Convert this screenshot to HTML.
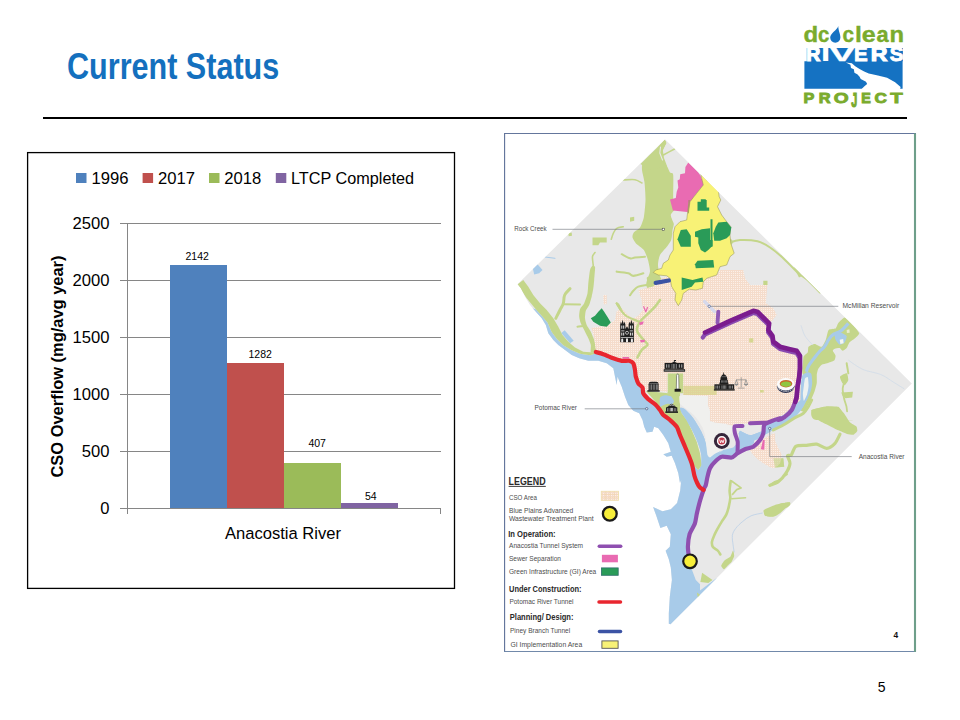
<!DOCTYPE html>
<html><head><meta charset="utf-8">
<style>
html,body{margin:0;padding:0;background:#fff;}
body{width:960px;height:720px;position:relative;overflow:hidden;font-family:"Liberation Sans",sans-serif;}
.abs{position:absolute;}
#title{left:67px;top:45px;font-size:36px;font-weight:bold;color:#1470be;white-space:nowrap;transform-origin:0 0;transform:scaleX(0.849);line-height:44px;}
#rule{left:43px;top:117px;width:864px;height:2px;background:#000;}
#pgnum{left:877.7px;top:679px;font-size:14px;color:#000;line-height:17px;}
svg{position:absolute;left:0;top:0;}
text{font-family:"Liberation Sans",sans-serif;}
</style></head><body>
<div id="title" class="abs">Current Status</div>
<div id="rule" class="abs"></div>
<div id="pgnum" class="abs">5</div>

<!-- LOGO -->
<svg id="logo" width="960" height="720" viewBox="0 0 960 720">
<path d="M806.8 47.9 H902.9 V61.3 H902.6 V88.7 H804.4 V61.3 H806.8 Z" fill="#1572c2"/>
<g transform="translate(800,40) scale(0.114583)"><path d="M400 196 L452 204 L482 230 L520 254 L560 274 L600 293 L680 309 L760 330 L830 368 L878 410 L874 428 L538 428 L560 405 L586 385 L576 365 L530 340 L520 320 L500 300 L475 285 L470 256 L445 245 L440 215 Z" fill="#fff"/></g>
<text transform="translate(806.29,60.699999999999996) scale(0.989,1)" font-size="19.76" font-weight="bold" fill="#fff" stroke="#fff" stroke-width="1.2" vector-effect="non-scaling-stroke" stroke-linejoin="miter">R</text>
<text transform="translate(820.78,61.3) scale(1.685,1)" font-size="20.6" font-weight="bold" fill="#fff">I</text>
<text transform="translate(829.34,61.099999999999994) scale(1.898,1)" font-size="20.32" font-weight="bold" fill="#fff" stroke="#fff" stroke-width="0.4" vector-effect="non-scaling-stroke" stroke-linejoin="miter">V</text>
<text transform="translate(853.93,60.9) scale(1.023,1)" font-size="20.040000000000003" font-weight="bold" fill="#fff" stroke="#fff" stroke-width="0.8" vector-effect="non-scaling-stroke" stroke-linejoin="miter">E</text>
<text transform="translate(870.65,60.699999999999996) scale(1.172,1)" font-size="19.76" font-weight="bold" fill="#fff" stroke="#fff" stroke-width="1.2" vector-effect="non-scaling-stroke" stroke-linejoin="miter">R</text>
<text transform="translate(889.86,60.849999999999994) scale(1.028,1)" font-size="19.970000000000002" font-weight="bold" fill="#fff" stroke="#fff" stroke-width="0.9" vector-effect="non-scaling-stroke" stroke-linejoin="miter">S</text>
<text transform="translate(803.62,41.9) scale(1.077,1)" font-size="22.3" font-weight="bold" fill="#7aab2d" stroke="#7aab2d" stroke-width="0.4" vector-effect="non-scaling-stroke" stroke-linejoin="miter">d</text>
<text transform="translate(818.11,41.9) scale(0.910,1)" font-size="22.3" font-weight="bold" fill="#7aab2d" stroke="#7aab2d" stroke-width="0.4" vector-effect="non-scaling-stroke" stroke-linejoin="miter">c</text>
<text transform="translate(842.49,41.9) scale(0.928,1)" font-size="22.3" font-weight="bold" fill="#7aab2d" stroke="#7aab2d" stroke-width="0.4" vector-effect="non-scaling-stroke" stroke-linejoin="miter">c</text>
<text transform="translate(855.07,41.9) scale(1.111,1)" font-size="22.3" font-weight="bold" fill="#7aab2d" stroke="#7aab2d" stroke-width="0.4" vector-effect="non-scaling-stroke" stroke-linejoin="miter">l</text>
<text transform="translate(861.72,41.9) scale(1.124,1)" font-size="22.3" font-weight="bold" fill="#7aab2d" stroke="#7aab2d" stroke-width="0.4" vector-effect="non-scaling-stroke" stroke-linejoin="miter">e</text>
<text transform="translate(876.46,41.9) scale(0.976,1)" font-size="22.3" font-weight="bold" fill="#7aab2d" stroke="#7aab2d" stroke-width="0.4" vector-effect="non-scaling-stroke" stroke-linejoin="miter">a</text>
<text transform="translate(889.53,41.9) scale(1.068,1)" font-size="22.3" font-weight="bold" fill="#7aab2d" stroke="#7aab2d" stroke-width="0.4" vector-effect="non-scaling-stroke" stroke-linejoin="miter">n</text>
<text transform="translate(803.61,103.3) scale(1.063,1)" font-size="15.299999999999999" font-weight="bold" fill="#7aab2d" stroke="#7aab2d" stroke-width="1.0" vector-effect="non-scaling-stroke" stroke-linejoin="miter">P</text>
<text transform="translate(818.80,103.3) scale(1.071,1)" font-size="15.299999999999999" font-weight="bold" fill="#7aab2d" stroke="#7aab2d" stroke-width="1.0" vector-effect="non-scaling-stroke" stroke-linejoin="miter">R</text>
<text transform="translate(833.81,103.3) scale(1.251,1)" font-size="15.299999999999999" font-weight="bold" fill="#7aab2d" stroke="#7aab2d" stroke-width="1.0" vector-effect="non-scaling-stroke" stroke-linejoin="miter">O</text>
<text transform="translate(851.24,106.8) scale(0.705,1.32)" font-size="15.299999999999999" font-weight="bold" fill="#7aab2d" stroke="#7aab2d" stroke-width="1.0" vector-effect="non-scaling-stroke" stroke-linejoin="miter">J</text>
<text transform="translate(861.15,103.3) scale(0.932,1)" font-size="15.299999999999999" font-weight="bold" fill="#7aab2d" stroke="#7aab2d" stroke-width="1.0" vector-effect="non-scaling-stroke" stroke-linejoin="miter">E</text>
<text transform="translate(874.50,103.3) scale(1.120,1)" font-size="15.299999999999999" font-weight="bold" fill="#7aab2d" stroke="#7aab2d" stroke-width="1.0" vector-effect="non-scaling-stroke" stroke-linejoin="miter">C</text>
<text transform="translate(890.27,103.3) scale(1.332,1)" font-size="15.299999999999999" font-weight="bold" fill="#7aab2d" stroke="#7aab2d" stroke-width="1.0" vector-effect="non-scaling-stroke" stroke-linejoin="miter">T</text>
<path d="M838.2 26 C837.6 30 830.2 33 830.2 37.6 A5.1 5.1 0 0 0 840.4 37.6 C840.4 34 838.6 31.5 838.2 26 Z" fill="#1572c2"/>
</svg>

<!-- CHART -->
<svg id="chart" width="960" height="720" viewBox="0 0 960 720">
<rect x="27.6" y="152.6" width="426.9" height="435.8" fill="#fff" stroke="#000" stroke-width="1.3"/>
<g stroke="#868686" stroke-width="1" fill="none" shape-rendering="crispEdges">
<path d="M120 223.5H441M120 280.5H441M120 337.5H441M120 394.5H441M120 451.5H441M120 508.5H441"/>
<path d="M127.5 223V508M127.5 508V514M440.5 508V514"/>
</g>
<g shape-rendering="crispEdges">
<rect x="170" y="265" width="57" height="243" fill="#4f81bd"/>
<rect x="227" y="363" width="57" height="145" fill="#c0504d"/>
<rect x="284" y="463" width="57" height="45" fill="#9bbb59"/>
<rect x="341" y="503" width="57" height="5" fill="#8064a2"/>
</g>
<rect x="76" y="173" width="10.5" height="10" fill="#4f81bd"/>
<rect x="142.6" y="173" width="10.5" height="10" fill="#c0504d"/>
<rect x="209" y="173" width="10.5" height="10" fill="#9bbb59"/>
<rect x="275.8" y="173" width="10.5" height="10" fill="#8064a2"/>
<g font-size="16.3" fill="#000" lengthAdjust="spacingAndGlyphs">
<text x="91.5" y="183.6" textLength="37" lengthAdjust="spacingAndGlyphs">1996</text>
<text x="158" y="183.6" textLength="37" lengthAdjust="spacingAndGlyphs">2017</text>
<text x="224.2" y="183.6" textLength="37" lengthAdjust="spacingAndGlyphs">2018</text>
<text x="291" y="183.6" textLength="123" lengthAdjust="spacingAndGlyphs">LTCP Completed</text>
<text x="72.5" y="229.3" textLength="37" lengthAdjust="spacingAndGlyphs">2500</text>
<text x="72.5" y="286.3" textLength="37" lengthAdjust="spacingAndGlyphs">2000</text>
<text x="72.5" y="343.3" textLength="37" lengthAdjust="spacingAndGlyphs">1500</text>
<text x="72.5" y="400.3" textLength="37" lengthAdjust="spacingAndGlyphs">1000</text>
<text x="81.8" y="457.3" textLength="27.7" lengthAdjust="spacingAndGlyphs">500</text>
<text x="100.3" y="514.3" textLength="9.2" lengthAdjust="spacingAndGlyphs">0</text>
<text x="225" y="539" textLength="116" lengthAdjust="spacingAndGlyphs">Anacostia River</text>
</g>
<g font-size="10.5" fill="#000" text-anchor="middle">
<text x="197.2" y="259.8">2142</text>
<text x="260.2" y="357.8">1282</text>
<text x="317.2" y="446.8">407</text>
<text x="370.8" y="500">54</text>
</g>
<text transform="translate(63.4,477.5) rotate(-90)" font-size="17" font-weight="bold" fill="#000" textLength="222" lengthAdjust="spacingAndGlyphs">CSO Overflow (mg/avg year)</text>
</svg>

<!-- MAP -->
<svg id="map" width="960" height="720" viewBox="0 0 960 720">
<defs>
<linearGradient id="fr" x1="0" y1="0" x2="1" y2="0"><stop offset="0" stop-color="#5b7fb5"/><stop offset="1" stop-color="#5e9a78"/></linearGradient>
</defs>
<rect x="504" y="133" width="412" height="519" fill="#fff"/><rect x="504" y="133" width="412" height="1" fill="#64769c"/><rect x="504" y="133" width="1.15" height="518.9" fill="#64769c"/><rect x="504" y="651" width="412" height="0.95" fill="#6a83a6"/><rect x="913.95" y="133.4" width="2.1" height="518.5" fill="#6e9f8a"/>
<!--MAPCONTENT-->
<defs>
<pattern id="hatch" width="2" height="2" patternUnits="userSpaceOnUse"><rect width="2" height="2" fill="#f5dccb"/><rect x="1" y="1" width="1" height="1" fill="#fcf0e8"/></pattern>
<pattern id="hatchg" width="2" height="2" patternUnits="userSpaceOnUse"><rect width="2" height="2" fill="#e0d39a"/><rect x="1" y="1" width="1" height="1" fill="#dcdf9e"/></pattern>
<clipPath id="land"><path d="M665.0 139.3 L911.8 383.6 L670.5 624.3 L668.8 623.8 L668.8 613.3 L669.8 596.7 L671.9 580.0 L670.8 567.5 L668.8 559.2 L665.6 550.8 L669.8 546.7 L670.8 534.2 L666.7 525.8 L660.4 527.9 L656.2 515.4 L653.1 507.1 L662.5 511.2 L670.8 509.2 L677.1 502.9 L680.2 490.4 L681.2 480.0 L680.0 483.3 L678.3 473.3 L675.0 463.3 L671.7 455.8 L666.7 456.7 L663.3 454.2 L666.7 453.3 L670.8 451.7 L668.3 443.3 L663.3 435.0 L658.3 428.3 L654.2 426.7 L652.5 431.7 L646.7 432.5 L644.2 426.7 L642.5 420.0 L639.2 413.3 L633.3 410.8 L628.3 405.0 L625.0 396.7 L621.7 386.7 L617.5 376.7 L616.7 385.0 L615.0 376.7 L613.3 368.3 L606.7 363.3 L598.3 360.8 L588.3 360.8 L579.2 358.3 L571.7 355.0 L565.0 350.0 L558.3 345.0 L553.3 340.0 L548.3 333.3 L545.8 325.0 L541.7 318.3 L535.8 311.7 L530.0 305.0 L525.0 296.7 L520.8 288.3 L517.5 284.2 Z"/></clipPath>
</defs>
<g clip-path="url(#land)">
<rect x="500" y="130" width="420" height="500" fill="#e8e8e8"/>
<path d="M535.8 309.2 L541.7 315.8 L547.5 322.5 L551.7 332.0 L556.7 338.7 L563.3 345.3 L571.7 350.3 L580.0 353.7 L590.0 355.3 L595.8 353.3 L603.3 355.3 L613.3 359.7 L621.7 362.0 L629.2 362.0 L632.5 364.2 L634.2 370.0 L635.0 376.7 L637.5 383.3 L641.7 387.5 L643.3 393.3 L648.3 399.2 L655.0 404.2 L660.0 410.0 L663.3 415.0 L670.0 420.0 L676.7 426.7 L680.0 435.0 L685.0 446.7 L691.7 463.3 L698.3 470.0 L701.7 465.8 L705.0 463.3 L707.5 458.3 L710.0 453.3 L720.0 448.3 L721.7 450.0 L715.0 458.3 L710.0 466.7 L707.5 476.7 L705.8 485.0 L702.5 495.0 L700.0 503.3 L704.2 490.4 L697.9 505.0 L694.8 521.7 L689.6 534.2 L687.5 548.8 L689.6 563.3 L692.7 571.7 L695.8 580.0 L700.0 584.2 L700.0 590.4 L716.7 577.9 L716.7 630.0 L641.7 630.0 L500.0 640.0 L500.0 300.0 Z" fill="#a8cbe9"/>
<path d="M680.0 409.2 C679.6 407.3 682.2 407.5 684.2 408.7 C686.1 409.9 689.3 413.4 691.7 416.3 C694.0 419.3 696.3 422.9 698.3 426.3 C700.3 429.7 702.2 433.0 703.7 436.7 C705.1 440.3 706.3 444.7 707.0 448.3 C707.7 451.9 708.3 455.8 708.0 458.3 C707.7 460.9 706.4 462.3 705.3 463.7 C704.3 465.1 702.3 468.1 701.7 466.7 C701.0 465.2 701.9 458.9 701.3 455.0 C700.7 451.1 699.4 447.2 698.0 443.3 C696.6 439.4 694.9 435.6 693.0 431.7 C691.1 427.8 688.5 423.8 686.3 420.0 C684.2 416.2 680.4 411.1 680.0 409.2 Z" fill="#a8cbe9"/>
<path d="M795.8 396.7 L793.3 406.7 L783.3 415.0 L771.7 420.0 L765.8 425.0 L763.3 430.8 L750.0 435.8 L740.0 430.8 L738.7 433.3 L740.0 441.7 L750.0 442.0 L758.3 438.7 L766.7 433.7 L775.0 428.7 L786.7 423.7 L796.7 415.3 L803.3 407.0 L806.7 400.0 L808.3 396.7 Z" fill="#a8cbe9"/>
<path d="M739.2 433.3 L755.0 435.8 L753.3 446.7 L745.0 449.2 L737.5 453.3 L731.7 457.5 L721.7 456.7 L715.0 461.7 L710.0 468.3 L700.0 478.3 L700.0 466.7 L705.0 463.3 L713.3 456.7 L723.3 450.0 L733.3 447.5 L738.3 441.7 Z" fill="#a8cbe9"/>
<path d="M561.3 333.0 L564.7 330.3 L573.7 340.8 L570.0 343.3 Z" fill="#a8cbe9"/>
<path d="M532.5 267.0 L537.5 264.2 L542.5 270.0 L539.2 273.3 L534.2 274.5 Z" fill="#a8cbe9"/>
<path d="M545.0 257.0 L555.0 258.3" fill="none" stroke="#a8cbe9" stroke-width="1" stroke-linecap="round" stroke-linejoin="round"/>
<path d="M835.8 334.2 C836.7 333.1 841.5 332.2 843.3 332.5 C845.1 332.8 846.7 334.6 846.7 335.8 C846.7 337.1 844.7 339.4 843.3 340.0 C841.9 340.6 839.6 340.1 838.3 339.2 C837.1 338.2 835.0 335.3 835.8 334.2 Z" fill="#a8cbe9"/>
<path d="M664.2 140.5 C663.5 141.2 660.7 146.8 660.0 148.8 C659.3 150.7 659.0 155.7 658.0 157.0 C657.0 158.3 653.0 159.3 651.2 160.0 C649.5 160.7 644.1 161.8 643.0 163.0 C641.9 164.2 641.8 167.7 642.0 170.0 C642.2 172.3 644.1 179.0 644.5 182.5 C644.9 186.0 645.6 195.9 645.5 200.0 C645.4 204.1 644.4 214.3 643.8 217.5 C643.1 220.7 641.2 225.8 640.0 227.5 C638.8 229.2 634.6 231.3 633.8 232.5 C632.9 233.7 632.2 236.2 632.5 237.5 C632.8 238.8 634.9 242.3 636.2 243.8 C637.6 245.2 642.4 248.1 643.8 250.0 C645.1 251.9 647.3 257.5 648.0 260.0 C648.7 262.5 650.1 269.1 650.0 271.2 C649.9 273.4 647.9 277.1 647.5 278.8 C647.1 280.4 646.0 283.5 646.2 285.0 C646.5 286.5 647.9 291.2 649.5 291.2 C651.1 291.2 658.2 285.7 660.0 285.0 C661.8 284.3 665.0 286.0 665.0 285.0 C665.0 284.0 660.8 278.6 660.0 276.2 C659.2 273.9 658.0 267.5 658.0 265.0 C658.0 262.5 659.0 257.0 660.0 255.0 C661.0 253.0 664.9 249.2 666.2 247.5 C667.6 245.8 670.5 242.0 671.2 240.0 C672.0 238.0 672.2 231.9 672.5 230.0 C672.8 228.1 674.0 225.5 673.8 223.8 C673.5 222.0 670.6 216.8 670.8 215.0 C670.9 213.2 674.7 210.5 675.0 208.8 C675.3 207.0 673.5 203.9 673.2 200.0 C673.0 196.1 673.6 178.2 673.2 175.0 C672.9 171.8 670.7 173.5 670.0 172.5 C669.3 171.5 667.8 167.4 667.0 166.2 C666.2 165.1 663.8 163.7 663.0 162.5 C662.2 161.3 660.5 157.7 660.5 156.2 C660.5 154.8 662.4 151.6 663.0 150.0 C663.6 148.4 665.9 143.6 666.0 142.5 C666.1 141.4 665.0 139.8 664.2 140.5 Z" fill="#c4d68a"/>
<path d="M640.5 164.0 L649.0 155.5 L656.0 148.8 L661.0 143.5 L664.6 139.8 L666.5 143.0 L662.8 150.0 L664.0 158.0 L667.0 166.0 L650.0 170.0 Z" fill="#c4d68a"/>
<path d="M660.5 147.0 L659.8 153.0 L662.5 160.0" fill="none" stroke="#e8e8e8" stroke-width="1.1" stroke-linecap="round" stroke-linejoin="round"/>
<path d="M648.3 278.3 C648.6 279.7 650.3 284.2 650.0 286.7 C649.7 289.2 646.7 291.1 646.7 293.3 C646.7 295.6 648.8 297.8 650.0 300.0 C651.2 302.2 653.5 305.6 654.2 306.7" fill="none" stroke="#c4d68a" stroke-width="3.2" stroke-linecap="round" stroke-linejoin="round"/>
<path d="M660.0 300.0 C659.2 301.1 657.1 304.3 655.0 306.7 C652.9 309.0 650.0 311.7 647.5 314.2 C645.0 316.7 641.8 318.9 640.0 321.7 C638.2 324.4 636.4 327.8 637.0 330.8 C637.6 333.9 641.9 337.7 643.7 340.0 C645.4 342.3 647.8 343.0 647.5 344.7 C647.2 346.3 643.3 347.9 641.7 350.0 C640.0 352.1 638.2 356.2 637.5 357.5" fill="none" stroke="#c4d68a" stroke-width="2.6" stroke-linecap="round" stroke-linejoin="round"/>
<path d="M616.7 303.3 C618.1 305.3 621.4 312.0 625.0 315.0 C628.6 318.0 635.8 320.3 638.0 321.3" fill="none" stroke="#c4d68a" stroke-width="2.2" stroke-linecap="round" stroke-linejoin="round"/>
<path d="M643.3 273.3 C641.7 273.8 635.8 275.8 633.3 275.8 C630.8 275.8 631.1 274.0 628.3 273.3 C625.6 272.6 618.6 271.9 616.7 271.7" fill="none" stroke="#c4d68a" stroke-width="2.2" stroke-linecap="round" stroke-linejoin="round"/>
<path d="M645.0 256.7 C643.3 256.8 637.5 257.2 635.0 257.5 C632.5 257.8 632.2 258.9 630.0 258.3 C627.8 257.8 623.1 254.9 621.7 254.2" fill="none" stroke="#c4d68a" stroke-width="2" stroke-linecap="round" stroke-linejoin="round"/>
<path d="M646.7 285.0 C645.3 285.3 640.6 285.7 638.3 286.7 C636.1 287.6 634.7 289.4 633.3 290.8 C631.9 292.3 630.6 294.6 630.0 295.3" fill="none" stroke="#c4d68a" stroke-width="2" stroke-linecap="round" stroke-linejoin="round"/>
<path d="M618.3 304.2 C619.2 305.7 621.7 311.1 623.3 313.3 C625.0 315.6 627.5 316.8 628.3 317.5" fill="none" stroke="#c4d68a" stroke-width="1.8" stroke-linecap="round" stroke-linejoin="round"/>
<path d="M663.3 155.0 C665.3 153.9 673.1 149.7 675.0 148.7" fill="none" stroke="#c4d68a" stroke-width="1.6" stroke-linecap="round" stroke-linejoin="round"/>
<path d="M623.3 180.0 C625.3 179.9 631.9 179.2 635.0 179.7 C638.1 180.2 640.8 182.4 642.0 183.0" fill="none" stroke="#c4d68a" stroke-width="1.6" stroke-linecap="round" stroke-linejoin="round"/>
<path d="M623.3 226.7 C622.2 226.9 618.3 227.2 616.7 228.3 C615.0 229.4 614.2 231.5 613.3 233.3 C612.4 235.1 611.7 238.2 611.3 239.2" fill="none" stroke="#c4d68a" stroke-width="1.6" stroke-linecap="round" stroke-linejoin="round"/>
<path d="M592.5 237.5 L606.7 237.5 L606.7 242.5 L600.0 242.5 L598.3 245.3 L592.5 245.3 Z" fill="#c4d68a"/>
<path d="M630.0 217.5 L634.2 216.7 L634.2 220.8 L630.0 221.7 Z" fill="#c4d68a"/>
<path d="M568.3 233.3 L571.7 232.5 L572.0 235.8 L568.7 236.3 Z" fill="#c4d68a"/>
<path d="M590.0 270.0 C589.6 271.8 588.6 281.0 588.3 283.3 C588.1 285.7 587.9 291.3 587.5 293.3 C587.1 295.3 584.9 301.8 584.2 303.3 C583.4 304.9 580.5 307.8 580.0 309.2 C579.5 310.5 579.1 315.2 579.2 316.7 C579.2 318.1 580.3 322.0 580.8 323.3 C581.3 324.7 583.4 328.5 584.2 330.0 C584.9 331.5 587.7 336.8 588.3 338.3 C589.0 339.8 590.6 343.6 590.8 345.0 C591.1 346.4 590.3 351.8 590.8 352.5 C591.3 353.2 595.3 352.2 595.8 351.7 C596.3 351.1 596.0 347.8 595.8 346.7 C595.7 345.5 594.7 341.5 594.2 340.0 C593.7 338.5 591.6 333.2 590.8 331.7 C590.1 330.2 587.2 326.3 586.7 325.0 C586.1 323.7 585.1 319.8 585.0 318.3 C584.9 316.9 585.4 312.2 585.8 310.8 C586.2 309.5 588.6 306.4 589.2 305.0 C589.8 303.6 591.2 298.3 591.7 296.7 C592.1 295.0 593.1 290.0 593.3 288.3 C593.6 286.7 594.0 281.8 594.2 280.0 C594.3 278.2 594.9 271.3 595.0 270.0 C595.1 268.7 595.2 267.1 595.0 266.7 C594.8 266.2 593.0 265.5 592.5 265.8 C592.0 266.2 590.4 268.2 590.0 270.0 Z" fill="#c4d68a"/>
<path d="M593.3 265.8 C593.2 264.3 592.2 258.9 592.5 256.7 C592.8 254.4 594.6 253.2 595.0 252.5" fill="none" stroke="#c4d68a" stroke-width="1.6" stroke-linecap="round" stroke-linejoin="round"/>
<path d="M570.0 288.7 C569.1 289.7 565.8 292.6 564.7 295.0 C563.6 297.4 564.1 300.8 563.3 303.3 C562.6 305.8 561.2 307.5 560.0 310.0 C558.8 312.5 556.5 316.9 555.8 318.3" fill="none" stroke="#c4d68a" stroke-width="3" stroke-linecap="round" stroke-linejoin="round"/>
<path d="M564.2 304.2 C566.8 304.2 577.4 304.4 580.0 304.5" fill="none" stroke="#c4d68a" stroke-width="2" stroke-linecap="round" stroke-linejoin="round"/>
<path d="M577.5 326.7 C578.8 326.5 583.8 326.0 585.0 325.8" fill="none" stroke="#c4d68a" stroke-width="2" stroke-linecap="round" stroke-linejoin="round"/>
<path d="M523.3 280.0 L528.3 286.7 L533.3 295.0 L540.0 303.3 L546.7 310.0 L553.3 318.3 L558.3 326.7 L562.5 335.0 L568.3 341.7 L575.0 347.5 L583.3 351.7 L593.3 352.5 L595.0 353.7 L590.0 355.3 L580.0 353.7 L571.7 350.3 L563.3 345.3 L556.7 338.7 L551.7 332.0 L547.5 322.5 L541.7 315.8 L535.8 309.2 L526.7 298.3 L517.5 284.2 Z" fill="#c4d68a"/>
<path d="M667.5 373.3 L683.3 373.3 L683.3 393.3 L667.5 393.3 Z" fill="#c4d68a"/>
<path d="M644.2 390.8 L668.3 393.3 L668.3 375.0 L683.3 375.0 L683.3 385.8 L680.0 393.3 L680.0 406.7 L681.7 413.3 L686.7 420.0 L691.7 430.0 L696.7 441.7 L700.0 453.3 L701.7 465.0 L698.3 470.0 L691.7 463.3 L685.0 448.3 L680.0 436.7 L676.7 426.7 L666.7 418.3 L656.7 403.3 L646.7 391.7 Z" fill="#c4d68a"/>
<path d="M660.0 397.5 C660.5 396.4 663.9 395.4 665.0 395.2 C666.1 395.1 670.4 395.9 671.2 396.5 C672.1 397.1 673.9 400.5 674.0 401.2 C674.1 402.0 672.5 404.1 671.9 404.4 C671.2 404.6 668.3 403.7 667.5 403.8 C666.7 403.8 664.5 404.7 663.8 405.0 C663.0 405.3 660.4 407.2 660.0 406.5 C659.6 405.8 659.5 398.6 660.0 397.5 Z" fill="#a8cbe9"/>
<path d="M680.0 409.2 C679.6 407.3 682.2 407.5 684.2 408.7 C686.1 409.9 689.3 413.4 691.7 416.3 C694.0 419.3 696.3 422.9 698.3 426.3 C700.3 429.7 702.2 433.0 703.7 436.7 C705.1 440.3 706.3 444.7 707.0 448.3 C707.7 451.9 708.3 455.8 708.0 458.3 C707.7 460.9 706.4 462.3 705.3 463.7 C704.3 465.1 702.3 468.1 701.7 466.7 C701.0 465.2 701.9 458.9 701.3 455.0 C700.7 451.1 699.4 447.2 698.0 443.3 C696.6 439.4 694.9 435.6 693.0 431.7 C691.1 427.8 688.5 423.8 686.3 420.0 C684.2 416.2 680.4 411.1 680.0 409.2 Z" fill="#a8cbe9"/>
<path d="M679.4 396.2 C679.6 395.7 682.9 395.0 683.8 395.0 C684.6 395.0 690.9 395.5 692.5 395.6 C694.1 395.7 706.5 395.6 707.5 396.2 C708.5 396.9 708.0 404.0 708.1 405.0 C708.3 406.0 709.9 410.2 710.0 411.2 C710.1 412.3 709.7 420.5 710.0 421.2 C710.3 422.0 714.0 422.3 715.0 422.5 C716.0 422.7 723.8 423.5 725.0 423.8 C726.2 424.0 733.2 425.8 733.8 426.2 C734.3 426.7 734.0 429.4 733.8 430.0 C733.5 430.6 730.4 434.0 730.0 435.0 C729.6 436.0 728.0 444.0 727.5 445.0 C727.0 446.0 723.3 449.4 722.5 450.0 C721.7 450.6 715.8 453.2 715.0 453.8 C714.2 454.2 710.5 457.4 710.0 457.5 C709.5 457.6 707.8 455.8 707.5 455.0 C707.2 454.2 706.4 446.3 706.2 445.0 C706.1 443.7 705.2 436.2 705.0 435.0 C704.8 433.8 702.9 428.4 702.5 427.5 C702.1 426.6 699.3 422.1 698.8 421.2 C698.2 420.4 694.6 415.8 693.8 415.0 C692.9 414.2 687.2 409.5 686.2 408.8 C685.3 408.0 680.5 404.6 680.0 403.8 C679.5 402.9 679.1 396.8 679.4 396.2 Z" fill="#f0f0ee"/>
<path d="M844.6 317.5 C845.7 317.3 848.4 320.0 849.4 321.0 C850.5 321.9 854.0 326.0 855.0 327.2 C856.0 328.5 859.2 332.4 859.2 333.5 C859.2 334.6 856.0 337.4 855.0 338.3 C854.0 339.2 850.3 341.5 849.4 342.5 C848.6 343.5 847.4 347.2 846.7 348.1 C846.0 348.9 843.2 350.8 842.5 350.8 C841.8 350.8 840.5 348.3 839.7 348.1 C839.0 347.8 835.6 348.5 834.9 348.8 C834.2 349.0 832.7 350.1 832.8 350.8 C832.8 351.5 835.4 354.7 835.6 355.7 C835.7 356.7 835.0 359.8 834.2 360.6 C833.3 361.3 828.5 362.9 827.2 363.3 C826.0 363.8 822.6 364.2 821.7 364.7 C820.8 365.3 818.7 367.9 818.2 368.9 C817.7 369.9 816.9 373.1 816.8 374.4 C816.7 375.8 817.0 381.1 816.8 382.8 C816.6 384.4 815.3 389.4 814.7 391.1 C814.2 392.8 811.9 398.1 811.2 399.4 C810.6 400.8 808.3 403.9 807.8 405.0 C807.3 406.1 807.1 410.0 806.4 410.6 C805.7 411.1 801.2 412.1 800.8 410.6 C800.4 409.0 802.0 397.8 802.2 395.3 C802.4 392.8 802.8 387.4 802.9 385.6 C803.1 383.8 803.7 378.6 803.6 377.2 C803.5 375.8 802.3 373.1 802.2 371.7 C802.2 370.3 802.8 364.9 802.9 363.3 C803.1 361.8 803.1 357.5 803.6 356.4 C804.1 355.3 807.3 353.2 807.8 352.2 C808.3 351.2 807.8 347.5 808.5 346.7 C809.2 345.8 813.4 343.9 814.7 343.9 C816.0 343.9 820.6 347.1 821.7 346.7 C822.8 346.2 825.1 341.4 825.8 339.7 C826.5 338.1 827.6 331.1 828.6 330.0 C829.6 328.9 834.6 329.3 835.6 328.6 C836.5 327.9 837.4 324.2 838.3 323.1 C839.2 321.9 843.5 317.7 844.6 317.5 Z" fill="#c4d68a"/>
<path d="M795.8 396.7 L793.3 406.7 L783.3 415.0 L771.7 420.0 L765.8 425.0 L763.3 430.8 L750.0 435.8 L740.0 430.8 L738.7 433.3 L740.0 441.7 L750.0 442.0 L758.3 438.7 L766.7 433.7 L775.0 428.7 L786.7 423.7 L796.7 415.3 L803.3 407.0 L806.7 400.0 L808.3 396.7 Z" fill="#a8cbe9"/>
<path d="M848.3 323.3 C847.1 324.6 843.7 328.8 841.1 330.7 C838.5 332.6 834.9 333.4 832.8 334.9 C830.7 336.4 830.0 337.8 828.6 339.7 C827.2 341.7 826.1 344.6 824.4 346.7 C822.8 348.8 820.7 350.1 818.9 352.2 C817.0 354.3 815.1 356.9 813.3 359.2 C811.6 361.5 809.6 364.0 808.5 366.1 C807.3 368.2 806.7 370.7 806.4 371.7" fill="none" stroke="#a8cbe9" stroke-width="3.2" stroke-linecap="butt" stroke-linejoin="round"/>
<path d="M834.9 334.9 C835.4 334.2 839.9 332.6 841.1 332.8 C842.3 332.9 846.3 335.3 846.7 336.2 C847.0 337.2 845.3 341.7 844.6 342.5 C843.9 343.3 840.6 344.9 839.7 344.6 C838.8 344.3 836.0 340.7 835.6 339.7 C835.1 338.8 834.3 335.6 834.9 334.9 Z" fill="#a8cbe9"/>
<path d="M839.7 339.7 L843.2 339.0 L843.6 343.2 L840.4 343.9 Z" fill="#f4f6f2"/>
<path d="M846.7 330.0 L849.4 329.3 L849.7 332.8 L846.9 333.1 Z" fill="#e8ecd0"/>
<path d="M802.2 375.8 C802.8 374.5 805.5 372.6 806.4 372.4 C807.3 372.2 810.7 372.7 811.2 373.8 C811.8 374.8 812.3 381.0 812.2 382.8 C812.2 384.5 811.3 389.4 810.8 391.1 C810.3 392.8 807.8 398.1 807.1 399.4 C806.4 400.8 804.2 403.9 803.6 405.0 C803.0 406.1 801.5 410.0 800.8 410.6 C800.1 411.1 796.8 411.1 796.7 410.6 C796.5 410.0 799.1 406.5 799.4 405.0 C799.8 403.5 800.0 397.2 800.1 395.3 C800.3 393.3 800.6 387.5 800.8 385.6 C801.0 383.6 801.7 377.2 802.2 375.8 Z" fill="#a8cbe9"/>
<path d="M805.0 378.6 C805.4 377.8 807.4 376.5 807.8 377.2 C808.1 377.9 808.7 383.9 808.6 385.6 C808.6 387.2 807.7 392.4 807.2 393.9 C806.8 395.4 804.3 400.8 803.9 400.8 C803.5 400.8 802.9 395.4 802.9 393.9 C802.9 392.4 803.7 387.1 803.9 385.6 C804.1 384.0 804.6 379.4 805.0 378.6 Z" fill="#eef2f0"/>
<path d="M722.0 247.0 C723.1 246.4 727.6 243.4 730.0 242.5 C732.4 241.6 736.3 240.2 740.0 240.0 C743.7 239.8 753.5 240.3 757.5 241.3 C761.5 242.3 766.7 245.3 770.0 247.5 C773.3 249.7 778.8 254.2 782.5 257.5 C786.2 260.8 794.2 269.5 797.5 272.5 C800.8 275.5 804.5 277.3 807.5 280.0 C810.5 282.7 818.3 290.8 820.0 292.5" fill="none" stroke="#c4d68a" stroke-width="2.0" stroke-linecap="round" stroke-linejoin="round"/>
<path d="M726.0 240.0 C726.7 238.8 728.8 238.2 730.0 238.5 C731.2 238.8 733.0 240.8 733.0 242.0 C733.0 243.2 731.2 245.3 730.0 246.0 C728.8 246.7 726.7 247.0 726.0 246.0 C725.3 245.0 725.3 241.2 726.0 240.0 Z" fill="#c4d68a"/>
<path d="M793.5 267.0 L797.0 268.0 L802.0 276.0 L799.0 277.5 Z" fill="#c4d68a"/>
<path d="M811.7 400.0 C811.1 401.1 809.7 404.4 808.3 406.7 C806.9 408.9 805.8 411.3 803.3 413.3 C800.8 415.3 796.7 416.7 793.3 418.7 C790.0 420.6 786.7 423.1 783.3 425.0 C780.0 426.9 775.0 429.2 773.3 430.0" fill="none" stroke="#c4d68a" stroke-width="3" stroke-linecap="round" stroke-linejoin="round"/>
<path d="M840.0 376.7 C840.4 375.7 845.8 373.0 846.7 373.3 C847.5 373.7 848.5 378.8 848.3 380.0 C848.2 381.2 845.6 384.7 845.0 385.0 C844.4 385.3 843.0 384.2 842.5 383.3 C842.0 382.5 839.6 377.7 840.0 376.7 Z" fill="#c4d68a"/>
<path d="M846.7 363.3 C846.9 365.0 848.1 371.7 848.3 373.3" fill="none" stroke="#c4d68a" stroke-width="2" stroke-linecap="round" stroke-linejoin="round"/>
<path d="M811.7 410.0 C812.3 409.1 824.9 406.9 826.7 406.7 C828.4 406.4 837.2 406.2 838.3 406.7 C839.4 407.1 842.8 412.4 843.3 413.3 C843.9 414.2 841.8 419.6 846.7 420.0 C851.6 420.4 918.7 420.0 916.7 420.0 C914.7 420.0 823.7 420.7 816.7 420.0 C809.7 419.3 811.0 410.9 811.7 410.0 Z" fill="#c4d68a"/>
<path d="M811.4 409.9 C812.1 409.3 824.9 406.4 826.7 406.2 C828.5 406.1 837.2 407.2 838.3 407.7 C839.5 408.2 843.4 412.6 844.2 413.5 C844.9 414.5 849.2 421.4 850.0 422.3 C850.8 423.2 856.1 426.1 856.6 426.7 C857.0 427.2 857.5 430.5 857.3 431.0 C857.1 431.6 854.3 434.5 853.6 434.7 C853.0 434.9 848.1 434.2 847.1 434.0 C846.1 433.7 839.6 430.9 838.3 430.3 C837.1 429.7 829.4 425.8 828.1 425.2 C826.9 424.6 820.2 421.5 819.4 420.8 C818.5 420.2 815.5 415.7 815.0 415.0 C814.5 414.3 810.6 410.5 811.4 409.9 Z" fill="#c4d68a"/>
<path d="M841.2 392.4 L852.9 391.7 L852.2 397.5 L845.6 398.2 L842.7 396.0 Z" fill="#c4d68a"/>
<path d="M844.9 380.0 C844.6 381.2 842.8 386.2 842.7 388.8 C842.6 391.3 843.7 396.6 844.2 399.0 C844.7 401.3 846.0 404.6 846.4 406.2 C846.7 407.9 847.0 410.7 847.1 411.4" fill="none" stroke="#c4d68a" stroke-width="1.8" stroke-linecap="round" stroke-linejoin="round"/>
<path d="M840.0 434.2 C839.3 435.4 836.8 441.4 835.0 443.3 C833.2 445.2 829.1 448.2 826.7 448.3 C824.2 448.4 819.3 444.6 816.7 444.2 C814.0 443.8 809.4 445.0 806.7 445.3 C803.9 445.6 797.9 445.0 795.8 446.3 C793.8 447.6 792.4 453.7 791.3 455.0 C790.2 456.3 787.7 454.7 787.5 455.8 C787.3 456.9 790.2 461.0 790.0 463.3 C789.8 465.7 787.4 470.9 785.8 473.3 C784.3 475.8 780.4 480.1 778.3 481.7 C776.2 483.3 771.1 484.8 770.0 485.3" fill="none" stroke="#c4d68a" stroke-width="3.2" stroke-linecap="round" stroke-linejoin="round"/>
<path d="M764.2 510.0 C765.2 508.9 772.4 505.8 775.0 505.0 C777.6 504.2 789.5 501.7 790.0 502.5 C790.5 503.3 781.7 511.9 780.0 513.3 C778.3 514.8 774.8 516.4 773.3 516.7 C771.8 516.9 765.9 516.5 765.0 515.8 C764.1 515.2 763.2 511.1 764.2 510.0 Z" fill="#c4d68a"/>
<path d="M773.3 458.3 L783.3 458.3 L784.2 466.7 L775.0 467.5 Z" fill="#c4d68a"/>
<path d="M730.7 481.1 C730.5 482.4 729.6 488.6 729.6 490.8 C729.5 493.1 730.4 495.7 730.3 497.8 C730.2 499.8 729.4 503.9 728.9 506.1 C728.4 508.3 727.3 512.4 726.4 514.4 C725.5 516.5 723.1 519.5 721.9 521.4 C720.8 523.2 718.8 526.5 717.8 528.3 C716.8 530.2 715.1 533.4 714.3 535.3 C713.5 537.1 712.1 540.6 711.9 542.2 C711.8 543.8 712.1 546.0 712.9 547.1 C713.7 548.2 716.8 549.6 717.8 550.6 C718.8 551.5 719.9 553.9 720.3 554.4" fill="none" stroke="#c4d68a" stroke-width="2.6" stroke-linecap="round" stroke-linejoin="round"/>
<path d="M731.2 480.8 L741.1 487.9 L736.7 489.6 L732.5 494.4" fill="none" stroke="#c4d68a" stroke-width="1.7" stroke-linecap="round" stroke-linejoin="round"/>
<path d="M731.7 498.8 L745.6 497.8" fill="none" stroke="#c4d68a" stroke-width="1.4" stroke-linecap="round" stroke-linejoin="round"/>
<path d="M763.6 510.3 C764.2 509.8 772.1 507.3 773.3 506.8 C774.5 506.3 780.6 503.6 781.7 503.3 C782.8 503.1 789.4 502.5 790.0 502.6 C790.6 502.8 790.4 505.7 790.0 506.1 C789.6 506.5 785.2 508.5 784.4 508.9 C783.7 509.3 779.5 511.2 778.9 511.7 C778.2 512.1 775.5 515.5 774.7 515.8 C774.0 516.2 768.4 516.6 767.8 516.5 C767.1 516.4 765.3 514.9 765.0 514.4 C764.7 514.0 763.1 510.8 763.6 510.3 Z" fill="#c4d68a"/>
<path d="M721.2 565.8 C721.3 564.9 723.8 561.2 724.7 560.3 C725.6 559.4 729.4 557.8 730.3 556.8 C731.1 555.8 732.7 550.6 733.1 550.6 C733.4 550.5 734.3 555.0 734.2 556.1 C734.0 557.2 732.3 560.7 731.7 561.7 C731.0 562.6 728.3 565.1 727.5 565.8 C726.7 566.6 724.7 569.3 724.0 569.3 C723.4 569.3 721.2 566.7 721.2 565.8 Z" fill="#c4d68a"/>
<path d="M762.2 513.1 C760.4 513.5 754.4 514.4 751.1 515.8 C747.9 517.2 745.3 519.3 742.8 521.4 C740.2 523.5 737.6 526.0 735.8 528.3 C734.1 530.6 732.8 532.5 732.4 535.3 C731.9 538.1 732.8 542.2 733.1 545.0 C733.4 547.8 734.0 550.8 734.2 551.9" fill="none" stroke="#b4cde6" stroke-width="0.7" stroke-linecap="round" stroke-linejoin="round"/>
<path d="M769.2 485.3 C770.1 484.7 772.9 482.7 774.7 481.8 C776.6 480.9 778.9 480.5 780.3 479.7 C781.7 478.9 781.9 477.9 783.1 476.9 C784.2 476.0 786.5 474.6 787.2 474.2" fill="none" stroke="#c4d68a" stroke-width="1.6" stroke-linecap="round" stroke-linejoin="round"/>
<path d="M702.1 572.7 L712.5 580.0 L708.3 583.1 L700.4 582.1 Z" fill="#c4d68a"/>
<path d="M696.9 592.5 L700.4 595.0 L697.9 597.7 Z" fill="#c4d68a"/>
<path d="M801.1 325.7 C801.8 327.4 803.1 332.8 805.0 336.0 C806.9 339.2 811.4 343.5 812.7 345.0" fill="none" stroke="#c9d8ea" stroke-width="0.6" stroke-linecap="round" stroke-linejoin="round"/>
<path d="M848.7 360.4 C851.1 361.9 857.4 367.0 862.8 369.4 C868.1 371.8 875.6 372.4 880.8 374.5 C885.9 376.6 889.8 379.9 893.7 382.3 C897.6 384.7 902.3 387.6 904.0 388.7" fill="none" stroke="#c9d8ea" stroke-width="0.6" stroke-linecap="round" stroke-linejoin="round"/>
<path d="M596.0 352.0 L594.0 337.0 L591.5 328.0 L600.0 326.5 L607.0 326.5 L611.0 323.0 L615.0 320.0 L616.7 311.0 L622.5 309.0 L627.0 314.0 L633.0 318.5 L638.0 316.0 L643.0 310.0 L641.5 300.0 L638.5 290.0 L653.0 286.5 L662.0 278.0 L700.0 270.0 L716.7 275.0 L720.0 270.0 L743.3 270.0 L745.0 278.3 L750.0 285.0 L762.5 285.0 L765.0 281.7 L767.5 283.3 L766.7 293.3 L765.8 303.3 L773.3 308.3 L776.7 315.0 L771.0 322.0 L770.0 330.0 L774.0 336.0 L775.0 342.0 L781.0 347.0 L790.0 349.5 L797.0 351.0 L800.5 356.0 L800.5 400.0 L793.3 406.7 L783.3 415.0 L771.7 420.0 L765.8 425.0 L750.0 423.5 L743.8 423.8 L733.8 423.8 L733.8 426.0 L725.0 423.8 L715.0 422.5 L710.0 421.0 L710.0 411.0 L708.0 405.0 L708.3 396.0 L683.3 395.0 L683.3 373.3 L667.5 373.3 L667.5 391.7 L645.0 390.0 L638.3 381.7 L634.2 373.3 L634.2 364.2 L630.0 359.2 L621.7 358.3 L610.0 355.8 Z" fill="url(#hatch)"/>
<path d="M683.3 385.8 L716.7 385.8 L716.7 395.0 L683.3 395.0 Z" fill="url(#hatchg)"/>
<path d="M753.3 443.7 C754.3 442.8 757.9 441.9 760.0 440.8 C762.1 439.8 772.7 433.4 774.2 433.3 C775.7 433.2 774.6 438.5 775.0 440.0 C775.4 441.5 777.7 446.8 778.3 448.3 C779.0 449.8 781.5 453.5 781.7 455.0 C781.8 456.5 780.8 462.0 780.0 463.3 C779.2 464.7 775.0 468.3 773.3 468.3 C771.7 468.3 765.2 464.5 763.3 463.3 C761.5 462.2 756.3 458.0 755.0 456.7 C753.7 455.3 750.2 451.3 750.0 450.0 C749.8 448.7 752.3 444.6 753.3 443.7 Z" fill="url(#hatch)"/>
<path d="M603.3 295.0 L606.7 295.0 L606.7 304.2 L603.7 304.2 Z" fill="url(#hatch)"/>
<path d="M773.3 458.3 L783.3 458.3 L784.2 466.7 L775.0 467.5 Z" fill="#c4d68a" opacity="0.6"/>
<path d="M749.2 338.3 L753.3 338.3 L753.3 342.5 L749.2 342.5 Z" fill="#d6d690"/>
<path d="M760.0 390.0 L763.7 390.0 L763.7 392.5 L760.0 392.5 Z" fill="#d6d690"/>
<path d="M763.3 280.8 L767.5 280.8 L767.5 285.0 L763.3 285.0 Z" fill="#c4d68a"/>
<path d="M704.5 301.5 L709.0 306.0 L714.5 311.5" fill="none" stroke="#d6d9ec" stroke-width="3.2" stroke-linecap="round" stroke-linejoin="round"/>
<path d="M660.0 300.0 C659.2 301.1 657.1 304.3 655.0 306.7 C652.9 309.0 650.0 311.7 647.5 314.2 C645.0 316.7 641.8 318.9 640.0 321.7 C638.2 324.4 636.4 327.8 637.0 330.8 C637.6 333.9 641.9 337.7 643.7 340.0 C645.4 342.3 647.8 343.0 647.5 344.7 C647.2 346.3 643.3 347.9 641.7 350.0 C640.0 352.1 638.2 356.2 637.5 357.5" fill="none" stroke="#c4d68a" stroke-width="2.6" stroke-linecap="round" stroke-linejoin="round"/>
<path d="M616.7 303.3 C618.1 305.3 621.4 312.0 625.0 315.0 C628.6 318.0 635.8 320.3 638.0 321.3" fill="none" stroke="#c4d68a" stroke-width="2.2" stroke-linecap="round" stroke-linejoin="round"/>
<path d="M688.3 162.5 L698.3 172.5 L700.4 175.4 L704.2 184.2 L700.4 188.8 L693.8 197.1 L691.7 203.8 L689.6 212.3 L672.9 210.4 L670.0 199.6 L675.8 197.9 L676.7 191.7 L678.3 187.5 L677.5 180.4 L679.8 179.2 L680.2 174.3 L685.0 173.3 L685.4 167.1 Z" fill="#e96bb2"/>
<path d="M700.8 174.2 L706.7 180.0 L713.3 185.8 L718.3 190.0 L719.2 196.7 L720.8 200.0 L717.5 206.7 L721.7 215.0 L726.7 221.7 L730.8 226.7 L730.0 235.0 L730.8 243.3 L734.2 253.3 L730.0 256.7 L726.7 265.0 L720.0 266.7 L716.7 275.0 L706.7 278.3 L703.3 281.7 L702.5 288.3 L695.8 290.0 L689.2 289.2 L683.3 293.3 L681.7 300.0 L678.3 305.8 L675.0 300.0 L675.8 293.3 L671.7 286.7 L670.0 278.3 L666.7 275.8 L658.3 275.0 L653.3 272.5 L655.8 270.0 L661.7 268.3 L663.3 263.3 L668.3 260.0 L670.0 255.0 L673.3 250.0 L673.3 233.3 L675.0 226.7 L680.0 221.7 L686.7 220.0 L687.5 213.3 L689.2 200.0 L688.3 213.3 L690.0 201.7 L696.7 193.3 L703.3 185.0 Z" fill="#f8f276" stroke="#8f8f55" stroke-width="0.5"/>
<path d="M698.3 200.0 L706.7 200.0 L706.7 207.5 L709.2 207.5 L709.2 210.8 L697.5 210.8 L697.5 201.7 L697.5 201.7 L700.8 201.7 L700.8 199.2 L705.8 199.2 L705.8 200.0 Z" fill="#2a9b58"/>
<path d="M718.3 222.5 L726.7 221.7 L731.3 227.5 L730.0 235.0 L726.7 238.3 L720.0 240.8 L714.2 240.8 L713.3 233.3 L715.8 226.7 Z" fill="#2a9b58"/>
<path d="M710.5 219.2 L712.5 219.2 L712.5 246.7 L710.5 246.7 Z" fill="#2a9b58"/>
<path d="M695.0 231.7 L701.7 229.2 L710.0 228.3 L710.0 240.0 L712.5 240.0 L712.5 245.8 L708.3 250.0 L705.0 252.5 L700.8 250.0 L698.3 243.3 L698.3 237.5 L695.0 236.7 Z" fill="#2a9b58"/>
<path d="M680.8 230.0 L686.7 229.2 L690.8 235.8 L690.8 246.7 L680.8 246.7 L677.5 239.2 Z" fill="#2a9b58"/>
<path d="M697.5 260.8 L713.3 260.0 L714.2 267.5 L695.8 268.3 L695.0 264.2 Z" fill="#2a9b58"/>
<path d="M681.7 277.5 L692.5 280.0 L702.5 277.5 L703.3 281.7 L695.0 282.5 L691.7 286.7 L681.7 290.0 Z" fill="#2a9b58"/>
<path d="M601.7 308.3 L604.2 311.7 L608.3 318.3 L610.8 322.5 L606.7 326.7 L600.0 325.8 L593.3 321.7 L590.8 318.3 L595.0 315.8 L598.3 311.7 Z" fill="#2a9b58"/>
<path d="M643.7 306.7 L645.8 311.7 L647.5 307.5" fill="none" stroke="#e96bb2" stroke-width="1.2" stroke-linecap="round" stroke-linejoin="round"/>
<path d="M639.2 322.5 L643.7 321.3 L643.0 324.2 L639.7 325.3 Z" fill="#e96bb2"/>
<path d="M640.0 340.0 L645.0 339.7 L644.7 342.0 L640.8 342.5 Z" fill="#e96bb2"/>
<path d="M622.5 357.0 L629.2 357.0 L629.2 358.7 L622.5 358.7 Z" fill="#e96bb2"/>
<path d="M763.0 439.7 L764.7 440.0 L764.2 449.7 L760.8 449.2 Z" fill="#e96bb2"/>
</g>
<path d="M795.8 400.0 C795.3 401.3 793.1 407.8 791.7 410.0 C790.2 412.2 786.8 415.3 785.0 416.7 C783.2 418.0 779.0 419.8 778.3 420.0 C777.7 420.2 781.1 418.1 780.0 418.3 C778.9 418.6 772.1 420.8 770.0 421.7 C767.9 422.6 765.1 423.4 764.2 425.0 C763.3 426.6 763.9 431.3 763.3 433.3 C762.8 435.3 761.3 438.2 760.0 440.0 C758.7 441.8 755.3 445.4 753.3 446.7 C751.3 447.9 747.1 448.3 745.0 449.2 C742.9 450.1 739.3 452.2 737.5 453.3 C735.7 454.4 733.8 457.1 731.7 457.5 C729.6 457.9 723.9 456.1 721.7 456.7 C719.4 457.2 716.6 460.1 715.0 461.7 C713.4 463.2 711.0 466.3 710.0 468.3 C709.0 470.3 708.1 474.4 707.5 476.7 C706.9 478.9 706.3 483.4 705.8 485.0 C705.4 486.6 704.9 486.2 704.2 488.3 C703.4 490.4 701.0 497.5 700.0 500.8 C699.0 504.2 697.6 510.3 696.9 513.3 C696.2 516.4 695.8 521.0 694.8 523.8 C693.8 526.5 690.5 531.1 689.6 534.2 C688.7 537.2 688.0 543.3 687.9 546.7 C687.9 550.0 689.0 557.5 689.2 559.2" fill="none" stroke="#8f4fb0" stroke-width="4.2" stroke-linecap="round" stroke-linejoin="round"/>
<path d="M750.0 423.3 L766.7 422.7" fill="none" stroke="#8f4fb0" stroke-width="4.0" stroke-linecap="round" stroke-linejoin="round"/>
<path d="M742.5 426.0 C741.7 426.0 735.4 425.6 734.7 426.3 C733.9 427.1 734.7 431.8 735.0 433.3 C735.3 434.9 737.4 439.7 737.7 441.7 C737.9 443.6 737.5 451.9 737.5 453.0" fill="none" stroke="#8f4fb0" stroke-width="4.0" stroke-linecap="round" stroke-linejoin="round"/>
<path d="M718.3 311.7 L717.5 323.0" fill="none" stroke="#9058b4" stroke-width="3.9" stroke-linecap="round" stroke-linejoin="round"/>
<path d="M655.7 282.8 L668.8 280.5" fill="none" stroke="#3b53a4" stroke-width="4.3" stroke-linecap="round" stroke-linejoin="round"/>
<path d="M702.8 337.5 L704.8 334.7 L729.8 323.0 L753.1 313.0 L757.3 313.9 L763.1 319.7 L769.0 325.5 L768.1 332.2 L772.3 338.0 L773.1 343.9 L779.8 348.9 L789.8 351.4 L796.5 353.0 L799.8 358.0 L799.8 370.5 L799.0 378.9 L797.3 388.9 L796.5 398.9" fill="none" stroke="#8a4bb0" stroke-width="4.2" stroke-linecap="round" stroke-linejoin="round"/>
<path d="M705.0 332.5 L730.0 320.8 L753.3 310.8 L757.5 311.7 L763.3 317.5 L769.2 323.3 L768.3 330.0 L772.5 335.8 L773.3 341.7 L780.0 346.7 L790.0 349.2 L796.7 350.8 L800.0 355.8 L800.0 368.3 L799.2 376.7 L797.5 386.7 L796.7 396.7 L795.3 402.0" fill="none" stroke="#7b1c8e" stroke-width="4.6" stroke-linecap="round" stroke-linejoin="round"/>
<path d="M595.8 352.0 C596.8 352.3 601.0 353.3 603.3 354.2 C605.7 355.0 610.9 357.4 613.3 358.3 C615.8 359.2 619.6 360.5 621.7 360.8 C623.8 361.2 627.6 360.5 629.2 360.8 C630.7 361.2 632.6 362.1 633.3 363.3 C634.1 364.6 634.7 368.2 635.0 370.0 C635.3 371.8 635.4 374.9 635.8 376.7 C636.3 378.4 637.4 381.9 638.3 383.3 C639.2 384.8 641.8 386.2 642.5 387.5 C643.2 388.8 642.6 391.8 643.3 393.3 C644.1 394.9 646.8 397.7 648.3 399.2 C649.9 400.6 653.4 402.7 655.0 404.2 C656.6 405.6 658.9 408.6 660.0 410.0 C661.1 411.4 662.0 413.7 663.3 415.0 C664.7 416.3 668.2 418.4 670.0 420.0 C671.8 421.6 675.3 424.7 676.7 426.7 C678.0 428.7 678.9 432.3 680.0 435.0 C681.1 437.7 683.4 442.9 685.0 446.7 C686.6 450.4 690.4 459.4 691.7 463.3 C692.9 467.2 693.8 473.4 694.5 476.0 C695.2 478.6 696.5 481.5 697.2 483.0 C697.9 484.5 699.1 486.7 700.0 487.6 C700.9 488.5 703.1 489.6 703.6 489.9" fill="none" stroke="#e9262f" stroke-width="4.2" stroke-linecap="round" stroke-linejoin="round"/>
<circle cx="690" cy="561.3" r="6.8" fill="#f7ee3a" stroke="#1a1a1a" stroke-width="2.2"/>
<g fill="none" stroke="#6a6f75" stroke-width="0.6">
<path d="M552.5 229.3H662.2"/><rect x="662.2" y="228.2" width="2.2" height="2.2" fill="#fff" stroke="#333" stroke-width="0.5"/>
<path d="M710.4 306.3H838.3"/><circle cx="709.2" cy="306.3" r="1.2" fill="#fff" stroke="#2f3f6f" stroke-width="0.6"/>
<path d="M584.7 408.8H645.5"/><circle cx="646.7" cy="408.7" r="1.2" fill="#dfe9f3" stroke="#2f3f6f" stroke-width="0.6"/>
<path d="M769.7 429.7V456.6H851.7"/><circle cx="769.7" cy="428.5" r="1.2" fill="#dfe9f3" stroke="#2f3f6f" stroke-width="0.6"/>
</g>
<text x="514.2" y="231.2" font-size="7.3" font-weight="normal" fill="#4d4d4d" textLength="32.5" lengthAdjust="spacingAndGlyphs">Rock Creek</text>
<text x="842.5" y="307.6" font-size="7.3" font-weight="normal" fill="#4d4d4d" textLength="56.7" lengthAdjust="spacingAndGlyphs">McMillan Reservoir</text>
<text x="534.5" y="409.6" font-size="7.3" font-weight="normal" fill="#4d4d4d" textLength="42.5" lengthAdjust="spacingAndGlyphs">Potomac River</text>
<text x="858.7" y="458.8" font-size="7.3" font-weight="normal" fill="#4d4d4d" textLength="45.8" lengthAdjust="spacingAndGlyphs">Anacostia River</text>
<text x="508.6" y="485" font-size="10.6" font-weight="bold" fill="#2a2a2a" textLength="37" lengthAdjust="spacingAndGlyphs">LEGEND</text>
<rect x="508.6" y="485.9" width="37.2" height="0.9" fill="#2a2a2a"/>
<text x="509" y="499.8" font-size="7" font-weight="normal" fill="#4d4d4d" textLength="27.9" lengthAdjust="spacingAndGlyphs">CSO Area</text>
<rect x="601.3" y="491.3" width="17.2" height="9" fill="url(#hatch)" stroke="#f1dfae" stroke-width="0.9"/>
<path d="M601.3 494.3H618.5M601.3 497.3H618.5M605.6 491.3V500.3M609.9 491.3V500.3M614.2 491.3V500.3" stroke="#f0d2a8" stroke-width="0.5" fill="none"/>
<text x="509" y="512.8" font-size="7" font-weight="normal" fill="#4d4d4d" textLength="64.1" lengthAdjust="spacingAndGlyphs">Blue Plains Advanced</text>
<text x="509" y="520.6" font-size="7" font-weight="normal" fill="#4d4d4d" textLength="84.5" lengthAdjust="spacingAndGlyphs">Wastewater Treatment Plant</text>
<circle cx="609.8" cy="513.7" r="6.9" fill="#f7ee3a" stroke="#1a1a1a" stroke-width="2.3"/>
<text x="508.2" y="537.3" font-size="8.4" font-weight="bold" fill="#2a2a2a" textLength="47.4" lengthAdjust="spacingAndGlyphs">In Operation:</text>
<text x="509" y="548.1" font-size="7" font-weight="normal" fill="#4d4d4d" textLength="74.1" lengthAdjust="spacingAndGlyphs">Anacostia Tunnel System</text>
<path d="M599.3 546.3H620.7" stroke="#8f4fb0" stroke-width="3.5" stroke-linecap="round"/>
<text x="509" y="561" font-size="7" font-weight="normal" fill="#4d4d4d" textLength="52" lengthAdjust="spacingAndGlyphs">Sewer Separation</text>
<rect x="601.9" y="554.8" width="16" height="7.5" fill="#e96bb2"/>
<text x="509" y="574.4" font-size="7" font-weight="normal" fill="#4d4d4d" textLength="87.2" lengthAdjust="spacingAndGlyphs">Green Infrastructure (GI) Area</text>
<rect x="601.4" y="567.9" width="16.8" height="7.4" fill="#2a9b58" stroke="#2f6e6c" stroke-width="0.8"/>
<text x="509" y="592.3" font-size="8.4" font-weight="bold" fill="#2a2a2a" textLength="72.5" lengthAdjust="spacingAndGlyphs">Under Construction:</text>
<text x="509.4" y="603.8" font-size="7" font-weight="normal" fill="#4d4d4d" textLength="64.1" lengthAdjust="spacingAndGlyphs">Potomac River Tunnel</text>
<path d="M599 601.9H620.5" stroke="#e9262f" stroke-width="3.5" stroke-linecap="round"/>
<text x="509.8" y="620" font-size="8.4" font-weight="bold" fill="#2a2a2a" textLength="63.7" lengthAdjust="spacingAndGlyphs">Planning/ Design:</text>
<text x="510" y="633.1" font-size="7" font-weight="normal" fill="#4d4d4d" textLength="60.2" lengthAdjust="spacingAndGlyphs">Piney Branch Tunnel</text>
<path d="M599.5 631.5H620.5" stroke="#3b53a4" stroke-width="3.5" stroke-linecap="round"/>
<text x="510.4" y="647.3" font-size="7" font-weight="normal" fill="#4d4d4d" textLength="71.8" lengthAdjust="spacingAndGlyphs">GI Implementation Area</text>
<rect x="601.9" y="640.9" width="16.2" height="7.4" fill="#f8f276" stroke="#555" stroke-width="0.9"/>
<text x="893.6" y="638" font-size="8.4" font-weight="bold" fill="#111">4</text>
<g fill="#1f1f1f"><path d="M620.2 342.2V324.5L620.9 321.5L621.5 324L622.6 319.8L623.8 324L624.6 321.5L625.4 324.5V329L627 326.2L628.6 329V324.5L629.4 321.5L630.2 324L631.4 319.8L632.5 324L633.2 321.5L633.9 324.5V342.2Z"/></g>
<g fill="#e9e9e9"><rect x="621.3" y="325.5" width="1" height="3.2"/><rect x="623.2" y="325.5" width="1" height="3.2"/><rect x="629.9" y="325.5" width="1" height="3.2"/><rect x="631.8" y="325.5" width="1" height="3.2"/><rect x="621.2" y="330.5" width="3.2" height="0.8"/><rect x="629.7" y="330.5" width="3.2" height="0.8"/><rect x="621.3" y="332.6" width="1" height="3"/><rect x="623.2" y="332.6" width="1" height="3"/><rect x="629.9" y="332.6" width="1" height="3"/><rect x="631.8" y="332.6" width="1" height="3"/><circle cx="627" cy="332.8" r="1.5" fill="none" stroke="#e9e9e9" stroke-width="0.7"/><rect x="620.8" y="337" width="12.6" height="0.7"/><path d="M621.2 342.2V339.6A1 1 0 0 1 623.2 339.6V342.2ZM626 342.2V339.2A1 1 0 0 1 628 339.2V342.2ZM630.9 342.2V339.6A1 1 0 0 1 632.9 339.6V342.2Z"/></g>
<g fill="#1f1f1f"><rect x="664.6" y="362.9" width="19.2" height="6"/><rect x="663.7" y="369.2" width="21.4" height="2.5"/><rect x="673.9" y="360" width="0.7" height="3"/><rect x="674.2" y="360" width="1.8" height="1.1"/><path d="M671.5 362.9L674.2 361.6L677 362.9Z"/></g>
<g fill="#9a9a9a"><rect x="666" y="364.3" width="1.2" height="3.4"/><rect x="668.3" y="364.3" width="1.2" height="3.4"/><rect x="671.6" y="364" width="0.7" height="4.6"/><rect x="673" y="364" width="0.7" height="4.6"/><rect x="674.5" y="364" width="0.7" height="4.6"/><rect x="676" y="364" width="0.7" height="4.6"/><rect x="678.8" y="364.3" width="1.2" height="3.4"/><rect x="681.1" y="364.3" width="1.2" height="3.4"/><rect x="664.5" y="370.1" width="19.8" height="0.6"/></g>
<path d="M677.6 373.7L678.7 375.2L679 389H676.3L676.6 375.2Z" fill="#fdfdfd" stroke="#333" stroke-width="0.5"/><rect x="674.6" y="388.9" width="6.2" height="2.8" fill="#1f1f1f"/>
<g fill="#1f1f1f"><path d="M648.6 390.4V384.2Q648.6 381.8 651 381.8H656.2Q658.6 381.8 658.6 384.2V390.4Z"/><rect x="647.4" y="390.2" width="12.3" height="1.5"/></g>
<g fill="#8d8d8d"><rect x="649.6" y="384.4" width="0.8" height="5.4"/><rect x="651.2" y="384.4" width="0.8" height="5.4"/><rect x="652.8" y="384.4" width="0.8" height="5.4"/><rect x="654.4" y="384.4" width="0.8" height="5.4"/><rect x="656" y="384.4" width="0.8" height="5.4"/><rect x="657.3" y="384.4" width="0.7" height="5.4"/><rect x="649.3" y="383" width="8.8" height="0.6"/></g>
<g fill="#1f1f1f"><path d="M668.2 406.6Q671.6 401.8 675.2 406.6Z" fill="#cfcfcf" stroke="#1f1f1f" stroke-width="0.6"/><path d="M666 407.4L671.6 405.2L677.3 407.4V411.8H666Z"/><rect x="665.3" y="411.4" width="12.7" height="1.5"/></g>
<g fill="#9a9a9a"><rect x="667" y="408.1" width="0.8" height="3.2"/><rect x="668.6" y="408.1" width="0.8" height="3.2"/><rect x="670.3" y="407.9" width="2.6" height="3.4" fill="#bdbdbd"/><rect x="673.8" y="408.1" width="0.8" height="3.2"/><rect x="675.4" y="408.1" width="0.8" height="3.2"/></g>
<g fill="#1f1f1f"><path d="M723.3 372.6H724V374.2Q727.2 375.6 727.3 379.2V380H727.8V384.2H720V380H720.4V379.2Q720.5 375.6 723.3 374.2Z"/><rect x="714.4" y="384.3" width="19.8" height="5"/><rect x="713.9" y="389.2" width="20.8" height="1.4"/><rect x="719.4" y="382.6" width="9" height="2"/></g>
<g fill="#9d9d9d"><rect x="721.3" y="380.4" width="0.6" height="2.2"/><rect x="722.5" y="380.4" width="0.6" height="2.2"/><rect x="723.7" y="380.4" width="0.6" height="2.2"/><rect x="724.9" y="380.4" width="0.6" height="2.2"/><rect x="726.1" y="380.4" width="0.6" height="2.2"/><rect x="721.2" y="376.6" width="5.4" height="0.5"/><rect x="715.6" y="385.6" width="0.8" height="3"/><rect x="717.2" y="385.6" width="0.8" height="3"/><rect x="718.8" y="385.6" width="0.8" height="3"/><rect x="721.6" y="385.4" width="0.7" height="3.4"/><rect x="722.9" y="385.4" width="0.7" height="3.4"/><rect x="724.2" y="385.4" width="0.7" height="3.4"/><rect x="725.5" y="385.4" width="0.7" height="3.4"/><rect x="728.8" y="385.6" width="0.8" height="3"/><rect x="730.4" y="385.6" width="0.8" height="3"/><rect x="732" y="385.6" width="0.8" height="3"/></g>
<g fill="none" stroke="#8a8a8a" stroke-width="0.7"><path d="M741.2 377.2V387.4M737.8 388.1H744.6M736.2 379.8H746.2M736.4 379.8L734.9 384.4H738L736.4 379.8M746 379.8L744.5 384.4H747.6L746 379.8"/><path d="M734.8 384.4Q736.4 386.4 738.1 384.4ZM744.4 384.4Q746 386.4 747.7 384.4Z" fill="#9a9a9a"/></g>
<g><ellipse cx="785.7" cy="386.6" rx="8.8" ry="6.3" fill="#2b3350"/><ellipse cx="785.7" cy="384.3" rx="8.9" ry="6.2" fill="#fbfbfb"/><ellipse cx="786" cy="383.7" rx="6.3" ry="3.7" fill="#c96a2c"/><ellipse cx="786.1" cy="384.2" rx="5.2" ry="2.7" fill="#8fc641"/><path d="M777.6 388.2Q785.7 394.6 793.9 388.2" fill="none" stroke="#fff" stroke-width="0.9" stroke-dasharray="1.1 0.8"/></g>
<g><circle cx="721.8" cy="441" r="7.9" fill="#35263a"/><circle cx="721.8" cy="441" r="4.9" fill="#fff"/><circle cx="721.8" cy="441" r="3.5" fill="#c23b4e"/><path d="M719.6 439.4L720.6 442.8L721.8 440.2L723 442.8L724.1 439.4" fill="none" stroke="#fff" stroke-width="0.9"/></g>
<!--/MAPCONTENT-->
</svg>
</body></html>
